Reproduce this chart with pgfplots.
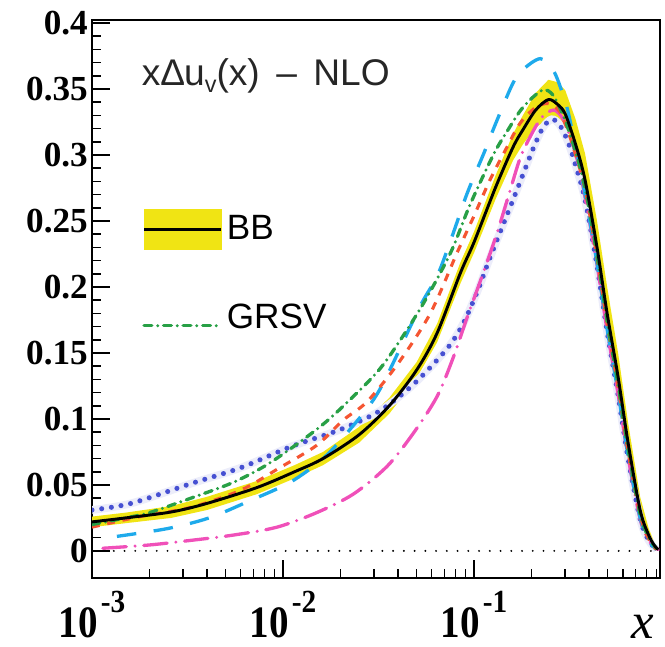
\documentclass[border=0pt]{standalone}
\usepackage{fontspec}
\setmainfont{Liberation Serif}
\setsansfont{Liberation Sans}
\usepackage{pgfplots}
\usepackage{pgfplotstable}
\pgfplotsset{compat=1.18}
\usepgfplotslibrary{fillbetween}

\definecolor{bandyellow}{RGB}{240,228,20}
\definecolor{cgreen}{RGB}{40,160,70}
\definecolor{cblue}{RGB}{70,80,210}
\definecolor{ccyan}{RGB}{30,170,235}
\definecolor{cred}{RGB}{245,85,50}
\definecolor{cmag}{RGB}{240,80,185}

\pgfplotstableread{
x up lo y
0.001 0.026 0.018 0.022
0.0015 0.029 0.021 0.025
0.0026 0.034 0.025 0.0295
0.004 0.041 0.031 0.036
0.0073 0.053 0.043 0.048
0.0115 0.065 0.055 0.060
0.0162 0.075 0.065 0.070
0.025 0.094 0.082 0.088
0.036 0.116 0.104 0.110
0.05 0.143 0.131 0.137
0.064 0.172 0.158 0.165
0.085 0.219 0.203 0.211
0.1 0.242 0.226 0.234
0.13 0.285 0.267 0.276
0.16 0.316 0.296 0.306
0.18 0.330 0.308 0.319
0.21 0.347 0.321 0.334
0.245 0.357 0.327 0.342
0.275 0.355 0.321 0.338
0.30 0.349 0.313 0.331
0.34 0.327 0.289 0.308
0.381 0.301 0.261 0.281
0.44 0.250 0.210 0.230
0.497 0.200 0.160 0.180
0.567 0.150 0.114 0.132
0.64 0.097 0.067 0.082
0.74 0.041 0.021 0.031
0.82 0.017 0.007 0.012
0.88 0.006 0.002 0.004
0.92 0.002 0.000 0.001
}\bbdata

\pgfplotstableread{
x y
0.001 0.020
0.0015 0.025
0.002 0.029
0.0033 0.040
0.0055 0.052
0.0086 0.067
0.0156 0.094
0.0233 0.117
0.0334 0.141
0.052 0.183
0.0748 0.225
0.095 0.262
0.126 0.300
0.149 0.318
0.18 0.336
0.227 0.349
0.26 0.345
0.30 0.326
0.34 0.302
0.381 0.275
0.44 0.224
0.497 0.174
0.567 0.126
0.64 0.077
0.74 0.028
0.82 0.010
0.90 0.002
}\grsvdata

\pgfplotstableread{
x y
0.001 0.031
0.0016 0.036
0.0033 0.051
0.006 0.063
0.011 0.079
0.02 0.092
0.032 0.106
0.048 0.126
0.072 0.153
0.0875 0.172
0.105 0.198
0.121 0.222
0.164 0.270
0.204 0.305
0.23 0.321
0.255 0.327
0.28 0.323
0.31 0.310
0.34 0.292
0.381 0.266
0.44 0.216
0.497 0.166
0.567 0.118
0.64 0.070
0.74 0.024
0.82 0.008
0.90 0.001
}\bluedata

\pgfplotstableread{
x y
0.00135 0.011
0.0025 0.017
0.0041 0.025
0.0067 0.038
0.0109 0.052
0.0162 0.070
0.0224 0.092
0.032 0.122
0.052 0.185
0.064 0.208
0.077 0.239
0.092 0.271
0.113 0.302
0.129 0.323
0.158 0.353
0.178 0.364
0.222 0.373
0.26 0.364
0.29 0.347
0.31 0.333
0.34 0.306
0.381 0.270
0.44 0.218
0.497 0.168
0.567 0.120
0.64 0.072
0.74 0.025
0.82 0.008
0.90 0.001
}\cyandata

\pgfplotstableread{
x y
0.001 0.018
0.00178 0.026
0.0033 0.033
0.006 0.046
0.0096 0.063
0.015 0.080
0.0206 0.099
0.0275 0.113
0.04 0.142
0.059 0.180
0.0815 0.226
0.1 0.254
0.121 0.281
0.145 0.303
0.174 0.324
0.21 0.336
0.245 0.339
0.28 0.333
0.31 0.318
0.34 0.300
0.381 0.274
0.44 0.222
0.497 0.172
0.567 0.124
0.64 0.075
0.74 0.027
0.82 0.009
0.90 0.001
}\reddata

\pgfplotstableread{
x y
0.00114 0.002
0.002 0.0045
0.0033 0.008
0.0055 0.012
0.0093 0.018
0.015 0.029
0.0233 0.043
0.035 0.064
0.048 0.089
0.064 0.117
0.078 0.147
0.092 0.177
0.11 0.208
0.132 0.241
0.155 0.274
0.178 0.301
0.222 0.327
0.26 0.334
0.29 0.328
0.32 0.313
0.35 0.294
0.381 0.268
0.44 0.217
0.497 0.167
0.567 0.119
0.64 0.071
0.74 0.024
0.82 0.008
0.92 0.001
}\magdata

\newcommand{\xexp}[1]{\scalebox{1}[1.15]{10}\kern1.5pt\raisebox{13pt}{\fontsize{15}{15}\selectfont\scalebox{1}[1.1]{#1}}}

\begin{document}
\begin{tikzpicture}
\begin{axis}[
  scale only axis,
  width=10.22cm, height=10.04cm,
  xmode=log,
  xmin=0.001, xmax=0.94,
  ymin=-0.0205, ymax=0.4023,
  axis line style={line width=1.4pt},
  xtick pos=bottom, ytick pos=left,
  tick align=inside,
  major tick length=0.33cm,
  minor tick length=0.16cm,
  every tick/.style={black, line width=0.8pt},
  xtick={0.001,0.01,0.1},
  xticklabels={{\xexp{-3}},{\xexp{-2}},{\xexp{-1}}},
  minor xtick={0.002,0.003,0.004,0.005,0.006,0.007,0.008,0.009,0.02,0.03,0.04,0.05,0.06,0.07,0.08,0.09,0.2,0.3,0.4,0.5,0.6,0.7,0.8,0.9},
  ytick={0,0.05,0.1,0.15,0.2,0.25,0.3,0.35,0.4},
  yticklabels={0,0.05,0.1,0.15,0.2,0.25,0.3,0.35,0.4},
  minor y tick num=4,
  xticklabel style={font=\fontsize{20}{22}\selectfont\bfseries, inner sep=0pt, anchor=base, yshift=-1.08cm},
  yticklabel style={font=\fontsize{18}{20}\selectfont\bfseries, inner sep=2pt},
  legend style={draw=none, fill=none, at={(axis description cs:0.088,0.662)}, anchor=north west,
    font=\fontsize{18}{20}\selectfont\sffamily, row sep=0.9cm, inner sep=0pt,
    nodes={inner sep=2pt}},
  legend cell align=left,
  clip mode=individual,
]
% legend images
\addlegendimage{legend image code/.code={
  \fill[bandyellow] (0cm,-0.36cm) rectangle (1.39cm,0.36cm);
  \draw[black,line width=1.5pt] (0cm,0cm) -- (1.39cm,0cm);}}
\addlegendentry{BB}
\addlegendimage{legend image code/.code={
  \draw[cgreen,line width=1.7pt,line cap=round,dash pattern=on 4pt off 3pt on 0pt off 3pt] (0cm,-0.15cm) -- (1.39cm,-0.15cm);}}
\addlegendentry{GRSV}

% band
\addplot[name path=up, draw=none, forget plot] table[x=x,y=up]{\bbdata};
\addplot[name path=lo, draw=none, forget plot] table[x=x,y=lo]{\bbdata};
\addplot[bandyellow, forget plot] fill between[of=up and lo];

% zero line
\addplot[black, line width=1.1pt, line cap=round, dash pattern=on 0pt off 5.5pt, forget plot]
  coordinates {(0.0013,0) (0.94,0)};

\addplot[cblue!10, line width=4pt, smooth, forget plot]
  table[x=x,y=y]{\bluedata};
\addplot[cblue, line width=2.6pt, line cap=round, dash pattern=on 0pt off 5pt, smooth, forget plot]
  table[x=x,y=y]{\bluedata};
\addplot[cmag, line width=1.7pt, line cap=round, dash pattern=on 12pt off 4.5pt on 0pt off 4.5pt, smooth, forget plot]
  table[x=x,y=y]{\magdata};
\addplot[ccyan, line width=1.7pt, dash pattern=on 10pt off 9pt, smooth, forget plot]
  table[x=x,y=y]{\cyandata};
\addplot[cred, line width=1.6pt, dash pattern=on 4pt off 4pt, smooth, forget plot]
  table[x=x,y=y]{\reddata};
\addplot[cgreen, line width=1.7pt, line cap=round, dash pattern=on 4pt off 3pt on 0pt off 3pt, smooth, forget plot]
  table[x=x,y=y]{\grsvdata};
\addplot[black, line width=1.5pt, smooth, forget plot]
  table[x=x,y=y]{\bbdata};

\node[font=\fontsize{19}{21}\selectfont\sffamily, text=black!85] at (rel axis cs:0.306,0.90)
  {x\kern0.5pt∆u\raisebox{-0.35ex}{\fontsize{12}{12}\selectfont v}(x) \,–\, NLO};
\node[font=\fontsize{26}{28}\selectfont\itshape, inner sep=0pt] at (rel axis cs:0.970,-0.088) {x};

\coordinate (bl) at (rel axis cs:-0.162,-0.1237);
\coordinate (tr) at (rel axis cs:1.0088,1.0358);
\end{axis}
\pgfresetboundingbox
\useasboundingbox (bl) rectangle (tr);
\end{tikzpicture}
\end{document}
